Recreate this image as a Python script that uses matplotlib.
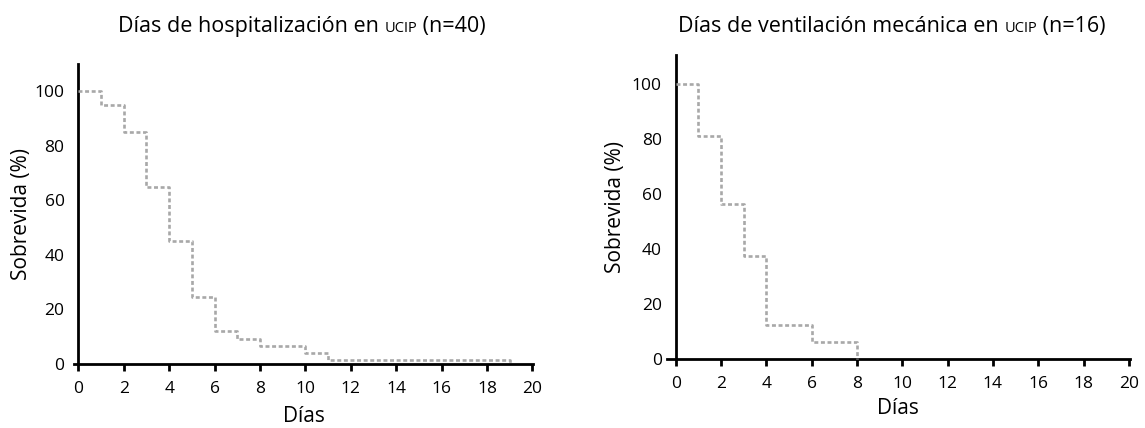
import matplotlib
matplotlib.use("Agg")
import matplotlib.pyplot as plt

plt.rcParams["font.family"] = ["Open Sans", "DejaVu Sans"]

# Kaplan-Meier: días de hospitalización en UCIP (n=40)
dias_hosp = [0, 1, 2, 3, 4, 5, 6, 7, 8, 10, 11, 19]
sobrev_hosp = [100, 95, 85, 65, 45, 24.5, 12, 9, 6.5, 4.2, 1.5, 0]

# Kaplan-Meier: días de ventilación mecánica en UCIP (n=16)
dias_vent = [0, 1, 2, 3, 4, 6, 8]
sobrev_vent = [100, 81.25, 56.25, 37.5, 12.5, 6.25, 0]

titulos = [
    ("Días de hospitalización en ", "UCIP", " (n=40)"),
    ("Días de ventilación mecánica en ", "UCIP", " (n=16)"),
]
xticks = list(range(0, 21, 2))
yticks = list(range(0, 101, 20))

fig = plt.figure(figsize=(11.45, 4.28), dpi=100)
ax1 = fig.add_axes([0.0645, 0.1495, 0.4014, 0.701])
ax2 = fig.add_axes([0.5822, 0.1605, 0.4047, 0.711])

gris = "#a8a8a8"


def dibujar(ax, x, y, xmin, ymax, lpad):
    ax.step(x, y, where="post", color=gris, lw=1.9, dashes=(1.5, 1.0),
            zorder=3, clip_on=False)
    ax.set_xlim(xmin, 20.05)
    ax.set_ylim(0, ymax)
    ax.spines["left"].set_position(("data", 0))
    for s in ["top", "right"]:
        ax.spines[s].set_visible(False)
    for s in ["left", "bottom"]:
        ax.spines[s].set_linewidth(2)
    ax.set_xticks(xticks)
    ax.set_yticks(yticks)
    ax.tick_params(axis="x", length=5, width=2, pad=7, labelsize=12.5)
    ax.tick_params(axis="y", length=0, pad=10, labelsize=12.5)
    ax.set_xlabel("Días", fontsize=15, labelpad=lpad)
    ax.set_ylabel("Sobrevida (%)", fontsize=15)


dibujar(ax1, dias_hosp, sobrev_hosp, -0.2, 110, 7)
dibujar(ax2, dias_vent, sobrev_vent, -0.4, 110.5, 4)
ax1.yaxis.set_label_coords(-0.092, 0.5)
ax2.yaxis.set_label_coords(-0.0876, 0.5)

# títulos con "UCIP" en versalitas (más pequeño)
for (a, b, c), x0 in zip(titulos, [118 / 1145, 678 / 1145]):
    ybase = 1 - 32 / 428
    t1 = fig.text(x0, ybase, a, fontsize=15.5, va="baseline")
    t2 = fig.text(0, ybase, b, fontsize=10.5, va="baseline")
    fig.canvas.draw()
    r = fig.canvas.get_renderer()
    bb1 = t1.get_window_extent(r).transformed(fig.transFigure.inverted())
    t2.set_position((bb1.x1, ybase))
    fig.canvas.draw()
    bb2 = t2.get_window_extent(r).transformed(fig.transFigure.inverted())
    fig.text(bb2.x1, ybase, c, fontsize=15.5, va="baseline")

fig.savefig("out.png", dpi=100)
